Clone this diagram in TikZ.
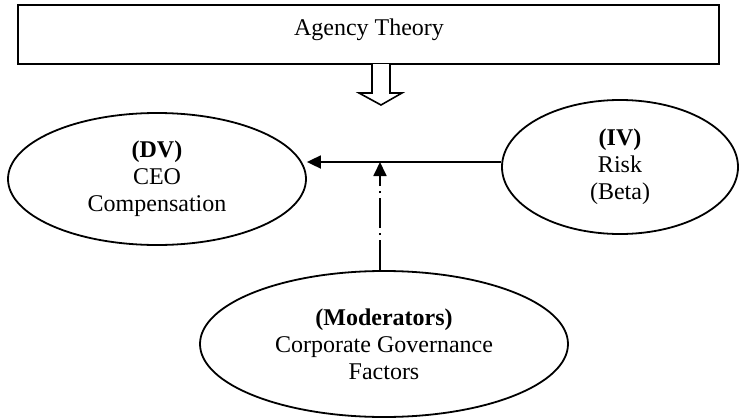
\documentclass[tikz,border=0pt]{standalone}
\usepackage{fontspec}
\setmainfont{Liberation Serif}
\usetikzlibrary{shapes.geometric,arrows.meta}
\begin{document}
\begin{tikzpicture}[x=0.5pt,y=-0.5pt,
  oval/.style={draw,ellipse,line width=0.9pt,inner sep=0pt,align=center,font=\fontsize{12}{13.5}\selectfont},
  link/.style={line width=0.9pt,-{Triangle[length=7pt,width=6.5pt]}},
  dashdot/.style={dash pattern=on 15pt off 2.5pt on 1pt off 2.5pt}]
\useasboundingbox (0,0) rectangle (740,418);

% theory box
\draw[line width=1pt] (18,5) rectangle (719,64);
\node[font=\fontsize{12}{13.5}\selectfont] (theory) at (369,30) {Agency Theory};

% hollow block arrow below the box
\draw[line width=0.8pt,fill=white] (372,64) -- (372,93) -- (359,93) -- (381,105)
  -- (402,93) -- (390,93) -- (390,64);

% variables
\node[oval,minimum width=149pt,minimum height=66pt] (dv) at (157,179)
  {\textbf{(DV)}\\CEO\\Compensation};
\node[oval,minimum width=118pt,minimum height=67pt] (iv) at (620,167)
  {\textbf{(IV)}\\Risk\\(Beta)};
\node[oval,minimum width=184pt,minimum height=73pt] (mod) at (384,344)
  {\textbf{(Moderators)}\\Corporate Governance\\Factors};

% connectors
\coordinate (hl) at (0,162);
\coordinate (j) at (380,162);
\draw[link] (iv.west |- hl) -- (dv.east |- hl);
\draw[link,dashdot] (mod.north -| j) -- (j);
\end{tikzpicture}
\end{document}
